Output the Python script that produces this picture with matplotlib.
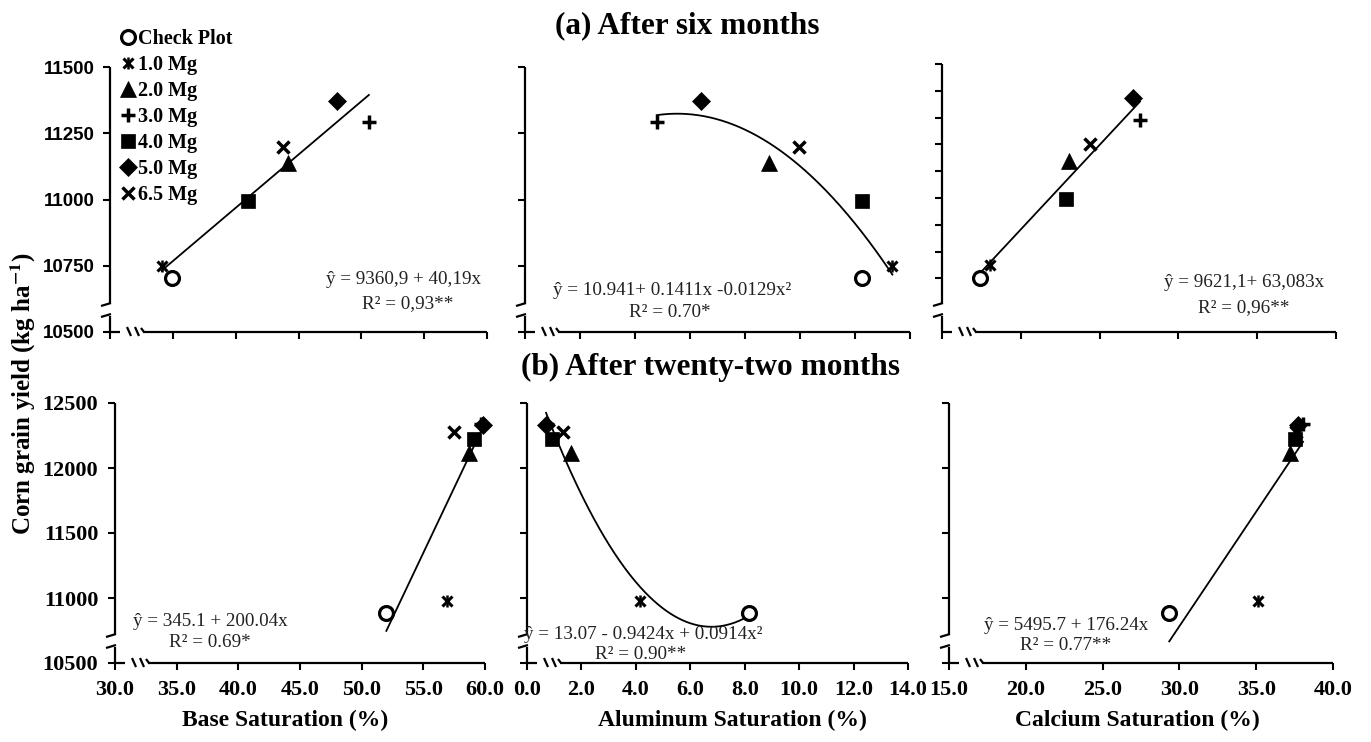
"""
Corn grain yield vs soil saturation indices (after 6 and 22 months)
"""
import numpy as np
import matplotlib
matplotlib.use('Agg')
import matplotlib.pyplot as plt
from matplotlib.lines import Line2D
from matplotlib.legend_handler import HandlerTuple

plt.rcParams['mathtext.fontset'] = 'stix'
SERIF = ['Liberation Serif', 'DejaVu Serif']
SANS = ['Liberation Sans', 'DejaVu Sans']

W, H = 1371, 742

treatments = ['Check Plot', '1.0 Mg', '2.0 Mg', '3.0 Mg', '4.0 Mg', '5.0 Mg', '6.5 Mg']

# (a) after six months
yield_6m = [10703, 10750, 11138, 11292, 10995, 11372, 11200]
base_6m = [34.9, 34.1, 44.2, 50.6, 40.95, 48.1, 43.8]
al_6m = [12.24, 13.36, 8.88, 4.79, 12.24, 6.39, 9.96]
ca_6m = [17.41, 18.05, 23.08, 27.56, 22.87, 27.1, 24.4]

# (b) after twenty-two months
yield_22m = [10885, 10975, 12115, 12340, 12222, 12331, 12278]
base_22m = [52.0, 56.9, 58.7, 59.7, 59.1, 59.8, 57.5]
al_22m = [8.17, 4.15, 1.62, 0.75, 0.91, 0.70, 1.34]
ca_22m = [29.34, 35.1, 37.2, 38.05, 37.5, 37.7, 37.6]

# linear trend coefficients as printed on the chart (intercept, slope)
fit_base_6m = (9360.9, 40.19)
fit_ca_6m = (9621.1, 63.083)
fit_base_22m = (345.1, 200.04)
fit_ca_22m = (5495.7, 176.24)

eq_texts = {
    'base_6m': ('ŷ = 9360,9 + 40,19x', 'R² = 0,93**'),
    'al_6m': ('ŷ = 10.941+ 0.1411x -0.0129x²', 'R² = 0.70*'),
    'ca_6m': ('ŷ = 9621,1+ 63,083x', 'R² = 0,96**'),
    'base_22m': ('ŷ = 345.1 + 200.04x', 'R² = 0.69*'),
    'al_22m': ('ŷ = 13.07 - 0.9424x + 0.0914x²', 'R² = 0.90**'),
    'ca_22m': ('ŷ = 5495.7 + 176.24x', 'R² = 0.77**'),
}

# marker styles per treatment (a list of layers per marker; 1.0 Mg = x + bar)
styles = [
    [dict(marker='o', ms=10, mfc='white', mec='black', mew=2.3)],
    [dict(marker='x', ms=7, mec='black', mew=2.2),
     dict(marker='|', ms=9, mec='black', mew=1.8)],
    [dict(marker='^', ms=11, mfc='black', mec='black', mew=0.5)],
    [dict(marker='+', ms=9.5, mec='black', mew=2.5)],
    [dict(marker='s', ms=10.5, mfc='black', mec='black', mew=0.5)],
    [dict(marker='D', ms=9, mfc='black', mec='black', mew=0.5)],
    [dict(marker='x', ms=9, mec='black', mew=2.5)],
]

fig = plt.figure(figsize=(W / 100, H / 100), dpi=100)


def make_ax(x0, yt, x1, yb):
    ax = fig.add_axes([x0 / W, 1 - yb / H, (x1 - x0) / W, (yb - yt) / H])
    for s in ax.spines.values():
        s.set_visible(False)
    w, h = x1 - x0, yb - yt
    kw = dict(transform=ax.transAxes, color='black', lw=1.6, clip_on=False,
              solid_capstyle='butt')
    # y axis with break
    ylo, yhi = 16 / h, 29 / h
    ax.plot([0, 0], [0, ylo], **kw)
    ax.plot([0, 0], [yhi, 1], **kw)
    ax.plot([-9 / w, 1 / w], [yhi - 3 / h, yhi], **kw)
    ax.plot([-9 / w, 1 / w], [ylo - 1 / h, ylo + 2 / h], **kw)
    # x axis with break
    ax.plot([0, 10 / w], [0, 0], **kw)
    for xm in (19, 27):
        ax.plot([(xm - 2) / w, (xm + 2) / w], [5 / h, -4 / h], **kw)
    ax.plot([33 / w, 1], [0, 0], **kw)
    ax.plot([31 / w, 34 / w], [4 / h, 0], **kw)
    ax.tick_params(direction='out', length=5, width=1.5, color='black')
    return ax


def scatter(ax, xs, ys):
    for x, y, layers in zip(xs, ys, styles):
        for st in layers:
            ax.plot([x], [y], ls='none', zorder=3, clip_on=False, **st)


def eq(ax, key, pos1, pos2):
    l1, l2 = eq_texts[key]
    for (px, py), t in ((pos1, l1), (pos2, l2)):
        ax.text(px, py, t, transform=ax.transAxes, ha='center', va='center',
                family=SERIF, fontsize=13.8, color='#222222')


def linear(ax, xs, coef):
    xx = np.linspace(min(xs), max(xs), 50)
    ax.plot(xx, coef[0] + coef[1] * xx, color='black', lw=1.3, zorder=2)


def quad(ax, xs, ys):
    c = np.polyfit(xs, ys, 2)
    xx = np.linspace(min(xs), max(xs), 200)
    ax.plot(xx, np.polyval(c, xx), color='black', lw=1.3, zorder=2)


# ---------------- top row ----------------
ax1 = make_ax(110, 67, 487, 332)
ax1.set_xlim(30, 60)
ax1.set_ylim(10500, 11500)
ax1.set_xticks(np.arange(30, 60.1, 5))
ax1.set_yticks([10500, 10750, 11000, 11250, 11500])
ax1.tick_params(labelbottom=False)
for lab in ax1.get_yticklabels():
    lab.set_family(SANS)
    lab.set_fontweight('bold')
    lab.set_fontsize(13.5)
ax1.tick_params(axis='y', pad=6)
linear(ax1, base_6m, fit_base_6m)
scatter(ax1, base_6m, yield_6m)
eq(ax1, 'base_6m', (0.78, 0.20), (0.79, 0.109))

ax2 = make_ax(525, 67, 910, 332)
ax2.set_xlim(0, 14)
ax2.set_ylim(10500, 11500)
ax2.set_xticks(np.arange(0, 14.1, 2))
ax2.set_yticks([10500, 10750, 11000, 11250, 11500])
ax2.tick_params(labelbottom=False, labelleft=False)
quad(ax2, al_6m, yield_6m)
scatter(ax2, al_6m, yield_6m)
eq(ax2, 'al_6m', (0.382, 0.158), (0.377, 0.072))

ax3 = make_ax(942, 64, 1336, 332)
ax3.set_xlim(15, 40)
ax3.set_ylim(10500, 11500)
ax3.set_xticks(np.arange(15, 40.1, 5))
ax3.set_yticks(np.arange(10700, 11501, 100))
ax3.tick_params(labelbottom=False, labelleft=False)
linear(ax3, ca_6m, fit_ca_6m)
scatter(ax3, ca_6m, yield_6m)
eq(ax3, 'ca_6m', (0.766, 0.183), (0.766, 0.09))


# ---------------- bottom row ----------------
def bottom_ticks(ax):
    for lab in ax.get_xticklabels() + ax.get_yticklabels():
        lab.set_family(SERIF)
        lab.set_fontweight('bold')
        lab.set_fontsize(16)
    ax.tick_params(axis='x', pad=7)
    ax.tick_params(axis='y', pad=7)


ax4 = make_ax(115, 403, 485, 663)
ax4.set_xlim(30, 60)
ax4.set_ylim(10500, 12500)
ax4.set_xticks(np.arange(30, 60.1, 5))
ax4.set_xticklabels([f'{v:.1f}' for v in np.arange(30, 60.1, 5)])
ax4.set_yticks(np.arange(10500, 12501, 500))
bottom_ticks(ax4)
linear(ax4, base_22m, fit_base_22m)
scatter(ax4, base_22m, yield_22m)
eq(ax4, 'base_22m', (0.258, 0.158), (0.257, 0.077))

ax5 = make_ax(527, 403, 908, 663)
ax5.set_xlim(0, 14)
ax5.set_ylim(10500, 12500)
ax5.set_xticks(np.arange(0, 14.1, 2))
ax5.set_xticklabels([f'{v:.1f}' for v in np.arange(0, 14.1, 2)])
ax5.set_yticks(np.arange(10500, 12501, 500))
ax5.tick_params(labelleft=False)
bottom_ticks(ax5)
quad(ax5, al_22m, yield_22m)
scatter(ax5, al_22m, yield_22m)
eq(ax5, 'al_22m', (0.306, 0.108), (0.299, 0.031))

ax6 = make_ax(949, 403, 1333, 663)
ax6.set_xlim(15, 40)
ax6.set_ylim(10500, 12500)
ax6.set_xticks(np.arange(15, 40.1, 5))
ax6.set_xticklabels([f'{v:.1f}' for v in np.arange(15, 40.1, 5)])
ax6.set_yticks(np.arange(10500, 12501, 500))
ax6.tick_params(labelleft=False)
bottom_ticks(ax6)
linear(ax6, ca_22m, fit_ca_22m)
scatter(ax6, ca_22m, yield_22m)
eq(ax6, 'ca_22m', (0.306, 0.146), (0.305, 0.069))

# axis labels
lab_kw = dict(family=SERIF, fontweight='bold', fontsize=17)
for ax, txt, xc in [(ax4, 'Base Saturation (%)', 0.46),
                    (ax5, 'Aluminum Saturation (%)', 0.54),
                    (ax6, 'Calcium Saturation (%)', 0.49)]:
    ax.set_xlabel(txt, **lab_kw)
    ax.xaxis.set_label_coords(xc, -0.18)

fig.text(0.017, 0.47, r'Corn grain yield (kg ha$^{\mathbf{-1}}$)', rotation=90,
         ha='center', va='center', family=SERIF, fontweight='bold', fontsize=18)

# titles
fig.text(0.5015, 0.966, '(a) After six months', ha='center', va='center',
         family=SERIF, fontweight='bold', fontsize=22.5)
fig.text(0.518, 0.505, '(b) After twenty-two months', ha='center', va='center',
         family=SERIF, fontweight='bold', fontsize=22.5)

# legend
handles = [tuple(Line2D([], [], ls='none', **st) for st in layers) for layers in styles]
ax1.legend(handles, treatments, loc='upper left', bbox_to_anchor=(121 / W, 1 - 29 / H),
           bbox_transform=fig.transFigure, frameon=False, handlelength=0.7,
           handletextpad=0.15, labelspacing=0.3, borderpad=0, borderaxespad=0,
           handler_map={tuple: HandlerTuple(ndivide=1, pad=0)},
           prop=dict(family=SERIF, weight='bold', size=14.5))

fig.savefig('out.png', dpi=100)
